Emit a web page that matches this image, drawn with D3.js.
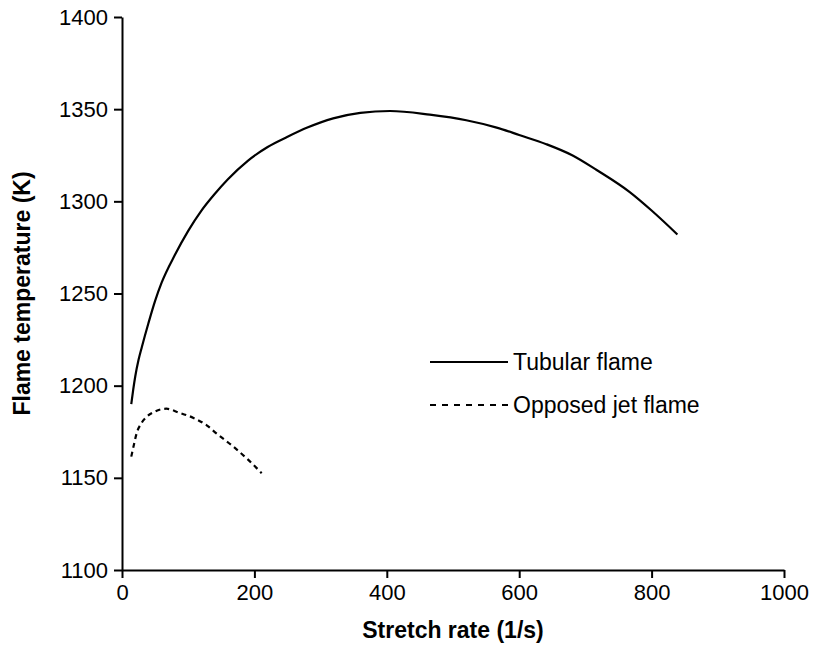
<!DOCTYPE html>
<html>
<head>
<meta charset="utf-8">
<script src="https://cdn.jsdelivr.net/npm/d3@7"></script>
<style>
  html, body { margin: 0; padding: 0; background: #fff; }
  svg { display: block; font-family: "Liberation Sans", Arial, sans-serif; }
</style>
</head>
<body>
<svg id="chart" width="815" height="651"></svg>
<script>
// Stretch rate (1/s) vs flame temperature (K)
const tubularRate = [14, 17, 20, 25, 30, 40, 50, 60, 80, 100, 120, 140, 160, 190, 220, 250, 280, 319, 360, 405, 465, 520, 566, 600, 641, 680, 717, 767, 800, 839];
const tubularTemp = [1190, 1198, 1205, 1214, 1221, 1234, 1246, 1256, 1271, 1284, 1295, 1304, 1312, 1322, 1329.5, 1335, 1340, 1345, 1348, 1349, 1347, 1344, 1340, 1336, 1331, 1325, 1317, 1305, 1295, 1282];

const opposedRate = [14, 18, 22, 30, 37, 50, 67, 85, 108, 128, 143, 168, 190, 211];
const opposedTemp = [1161.5, 1168, 1174, 1180, 1183, 1186, 1187.5, 1185.5, 1182.5, 1178.5, 1174, 1167, 1160, 1152.5];

const seriesNames = ["Tubular flame", "Opposed jet flame"];
const xTicks = [0, 200, 400, 600, 800, 1000];
const yTicks = [1100, 1150, 1200, 1250, 1300, 1350, 1400];

const svg = d3.select("#chart");
const margin = { left: 122, right: 31, top: 17, bottom: 81 };
const W = 815, H = 651;

const x = d3.scaleLinear().domain([0, 1000]).range([margin.left, W - margin.right]);
const y = d3.scaleLinear().domain([1100, 1400]).range([H - margin.bottom, margin.top]);

const tickFont = 22;
const fmt = d3.format("d");

// axes
const xAxis = svg.append("g")
  .attr("transform", `translate(0,${y(1100)})`)
  .call(d3.axisBottom(x).tickValues(xTicks).tickFormat(fmt).tickSize(8).tickSizeOuter(0).tickPadding(6));
const yAxis = svg.append("g")
  .attr("transform", `translate(${x(0)},0)`)
  .call(d3.axisLeft(y).tickValues(yTicks).tickFormat(fmt).tickSize(8).tickSizeOuter(0).tickPadding(6));

[xAxis, yAxis].forEach(g => {
  g.selectAll(".domain").attr("stroke", "#000").attr("stroke-width", 2);
  g.selectAll(".tick line").attr("stroke", "#000").attr("stroke-width", 2);
  g.selectAll(".tick text")
    .attr("fill", "#000")
    .style("font-size", tickFont + "px")
    .style("font-family", "'Liberation Sans', Arial, sans-serif");
});

// axis titles
svg.append("text")
  .attr("x", (x(0) + x(1000)) / 2)
  .attr("y", 638)
  .attr("text-anchor", "middle")
  .style("font-size", "23px")
  .style("font-weight", "bold")
  .text("Stretch rate (1/s)");

svg.append("text")
  .attr("transform", `translate(30,${(y(1100) + y(1400)) / 2}) rotate(-90)`)
  .attr("text-anchor", "middle")
  .style("font-size", "23px")
  .style("font-weight", "bold")
  .text("Flame temperature (K)");

// curves
const line = d3.line()
  .x(d => x(d[0]))
  .y(d => y(d[1]))
  .curve(d3.curveMonotoneX);

const tubular = tubularRate.map((r, i) => [r, tubularTemp[i]]);
const opposed = opposedRate.map((r, i) => [r, opposedTemp[i]]);

svg.append("path")
  .datum(tubular)
  .attr("d", line)
  .attr("fill", "none")
  .attr("stroke", "#000")
  .attr("stroke-width", 2.2);

svg.append("path")
  .datum(opposed)
  .attr("d", line)
  .attr("fill", "none")
  .attr("stroke", "#000")
  .attr("stroke-width", 2.2)
  .attr("stroke-dasharray", "5,4");

// legend
const legend = svg.append("g");
const legendRows = [
  { name: seriesNames[0], dash: null, y: 362 },
  { name: seriesNames[1], dash: "6,6", y: 405 }
];
legendRows.forEach(r => {
  legend.append("line")
    .attr("x1", 430).attr("x2", 508)
    .attr("y1", r.y).attr("y2", r.y)
    .attr("stroke", "#000")
    .attr("stroke-width", 2.2)
    .attr("stroke-dasharray", r.dash);
  legend.append("text")
    .attr("x", 513)
    .attr("y", r.y)
    .attr("dy", "0.35em")
    .style("font-size", "23px")
    .text(r.name);
});
</script>
</body>
</html>
